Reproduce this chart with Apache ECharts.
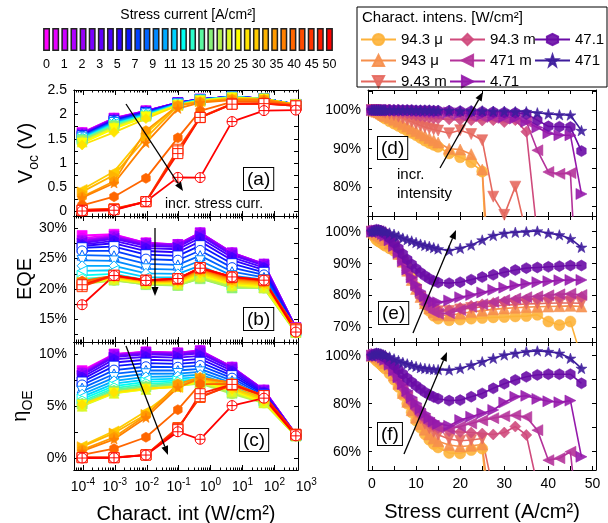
<!DOCTYPE html>
<html>
<head>
<meta charset="utf-8">
<script src="https://cdn.jsdelivr.net/npm/echarts@6/dist/echarts.min.js"></script>
<style>
  html, body { margin: 0; background: #fff; }
  #chart { width: 608px; height: 523px; }
</style>
</head>
<body>
<div id="chart"></div>
<script>
const FONT = '"Liberation Sans", Arial, sans-serif';

// stress current steps (A/cm2), one colour per step on the colour bar
const stress = [0, 0.5, 1, 1.5, 2, 2.5, 3, 4, 5, 6, 7, 8, 9, 10, 11, 12, 13, 14, 15, 17.5, 20, 22.5, 25, 27.5, 30, 32.5, 35, 37.5, 40, 42.5, 45, 47.5];
const stressColors = ['#ff00ff', '#e600ff', '#cc00ff', '#b000ff', '#9600f5', '#7a00ff', '#6000ff', '#4800ff', '#2e00ff', '#0a14ff',
  '#0040ff', '#0064ff', '#0088ff', '#00aaff', '#00d2ff', '#00fff2', '#2affcc', '#5af8a0', '#88f078', '#b4f050',
  '#dcf826', '#ffff00', '#ffe400', '#ffcc00', '#ffb400', '#ff9a00', '#ff8000', '#ff6600', '#ff4c00', '#ff3300', '#ff1a00', '#ff0000'];
const barLabels = ['0', '1', '2', '3', '5', '7', '9', '11', '13', '15', '20', '25', '30', '35', '40', '45', '50'];

// characterisation intensities (W/cm2)
const intens = [9.43e-5, 9.43e-4, 9.43e-3, 0.0943, 0.471, 4.71, 47.1, 471];
const intensNames = ['94.3 μ', '943 μ', '9.43 m', '94.3 m', '471 m', '4.71', '47.1', '471'];
const intensColors = ['#fdb23a', '#f68f4c', '#e5695f', '#cf4a7c', '#b4329a', '#9519ab', '#6a0ca6', '#3d1c9c'];

// unstressed values per intensity
const vocBase = [1.63, 1.93, 2.08, 2.25, 2.32, 2.37, 2.33, 2.21];
const eqeBase = [28.8, 29.0, 27.6, 27.3, 29.2, 25.9, 24.0, 13.6];
const etaBase = [8.4, 10.0, 10.2, 10.1, 10.3, 8.7, 6.5, 2.25];

// values relative to unstressed (%), one row per intensity, one value per stress step
const vocRel = [
  [100, 99.7, 99.4, 99.0, 98.6, 98.2, 97.8, 97.1, 96.5, 95.9, 95.3, 94.7, 94.1, 93.5, 92.8, 92.1, 91.5, 91.0, 90.5, 88.8, 87.8, 86.5, 84.1, 27.6, 24.5, 18.4, 17.2, 7.4, 1.8, 1.2, 1.0, 0.2],
  [100, 99.8, 99.6, 99.4, 99.1, 98.8, 98.5, 98.0, 97.5, 97.0, 96.4, 95.8, 95.2, 94.6, 94.0, 93.4, 92.8, 92.2, 91.6, 90.0, 89.8, 88.6, 84.6, 42.5, 38.9, 32.1, 30.0, 15.5, 2.6, 2.1, 1.6, 1.0],
  [100, 100, 99.9, 99.8, 99.7, 99.5, 99.3, 99.0, 98.7, 98.3, 97.9, 97.5, 97.0, 96.5, 96.0, 95.6, 95.3, 95.0, 94.7, 94.0, 94.8, 93.8, 92.2, 77.6, 72.9, 80.2, 68.0, 32.7, 9.6, 9.4, 9.5, 9.6],
  [100, 100, 100, 100, 99.9, 99.9, 99.8, 99.7, 99.6, 99.5, 99.3, 99.1, 98.9, 98.7, 98.5, 98.3, 98.1, 97.9, 97.8, 97.6, 97.5, 97.4, 97.3, 97.4, 96.9, 97.4, 94.4, 67.5, 57.0, 55.5, 53.0, 31.1],
  [100, 100, 100, 100, 100, 100, 100, 99.9, 99.9, 99.8, 99.8, 99.7, 99.6, 99.5, 99.4, 99.3, 99.2, 99.1, 99.0, 98.8, 98.6, 98.4, 98.2, 98.0, 97.8, 97.5, 97.0, 89.6, 84.0, 83.5, 83.7, 30.0],
  [100, 100, 100, 100, 100, 100, 100, 100, 100, 100, 100, 99.9, 99.9, 99.8, 99.8, 99.7, 99.7, 99.6, 99.6, 99.4, 99.2, 99.0, 98.8, 98.5, 98.2, 97.9, 97.0, 95.5, 94.0, 93.5, 93.5, 78.3],
  [100, 100, 100, 100, 100, 100, 100, 100, 100, 100, 100, 100, 100, 99.9, 99.9, 99.9, 99.9, 99.8, 99.8, 99.8, 99.7, 99.7, 99.6, 99.5, 99.4, 99.3, 99.0, 97.4, 95.8, 95.7, 95.6, 89.4],
  [100, 100, 100, 100, 100, 100, 100, 100, 100, 100, 100, 100, 100, 100, 100, 100, 100, 99.9, 99.9, 99.9, 99.8, 99.8, 99.8, 99.7, 99.7, 99.6, 99.6, 99.3, 99.0, 98.8, 98.7, 94.7]
];
const eqeRel = [
  [100, 98.5, 97.5, 97.0, 96.6, 96.1, 95.6, 94.8, 94.0, 93.0, 91.2, 88.8, 85.8, 82.7, 79.8, 77.2, 75.2, 73.7, 72.8, 72.3, 72.5, 72.8, 73.0, 73.2, 73.3, 73.5, 73.6, 74.0, 71.9, 70.8, 71.9, 60.5],
  [100, 99.6, 99.2, 98.8, 98.4, 97.9, 97.4, 96.3, 94.9, 93.0, 90.6, 87.8, 84.9, 82.1, 79.6, 77.6, 76.0, 74.8, 74.0, 73.8, 74.4, 74.9, 75.3, 75.7, 76.0, 76.2, 76.4, 76.5, 76.6, 76.7, 76.8, 76.6],
  [100, 100, 99.9, 99.6, 99.2, 98.7, 98.1, 96.8, 95.1, 92.9, 90.3, 87.4, 84.5, 81.8, 79.5, 77.7, 76.4, 75.6, 75.1, 75.2, 75.7, 76.1, 76.5, 76.8, 77.0, 77.2, 77.4, 77.5, 77.6, 77.7, 77.7, 77.6],
  [100, 100.2, 100.2, 100, 99.6, 99.1, 98.5, 97.2, 95.4, 93.2, 90.6, 87.8, 85.0, 82.4, 80.2, 78.4, 77.0, 76.0, 75.4, 75.5, 76.2, 76.8, 77.3, 77.7, 78.1, 78.4, 78.7, 79.0, 79.2, 79.4, 79.5, 79.6],
  [100, 100.2, 100.3, 100.1, 99.7, 99.2, 98.6, 97.2, 95.3, 92.9, 90.2, 87.3, 84.4, 81.7, 79.3, 77.3, 75.8, 74.8, 74.3, 74.5, 75.5, 76.5, 77.3, 78.0, 78.6, 79.1, 79.5, 79.8, 80.1, 80.4, 80.6, 80.2],
  [100, 100.3, 100.4, 100.2, 99.8, 99.3, 98.7, 97.3, 95.5, 93.3, 90.8, 88.2, 85.7, 83.4, 81.4, 79.8, 78.7, 78.1, 77.9, 78.5, 79.5, 80.2, 81.0, 81.8, 82.5, 83.2, 83.7, 84.2, 84.5, 84.8, 84.9, 84.9],
  [100, 100.4, 100.6, 100.5, 100.2, 99.8, 99.3, 98.0, 96.5, 94.8, 93.0, 91.3, 89.8, 88.4, 87.2, 86.2, 85.3, 84.6, 84.1, 83.9, 84.2, 85.0, 85.8, 86.5, 87.3, 88.0, 88.6, 88.8, 89.0, 89.2, 89.4, 89.4],
  [100, 100.3, 100.5, 100.5, 100.4, 100.2, 100.0, 99.6, 99.2, 98.6, 98.0, 97.5, 97.1, 96.6, 96.1, 95.7, 95.4, 95.0, 94.6, 94.1, 94.8, 95.8, 97.4, 98.8, 99.5, 99.8, 100.0, 100.2, 99.5, 99.0, 97.8, 95.1]
];
const etaRel = [
  [100, 99.0, 98.0, 97.2, 96.4, 95.5, 94.6, 92.5, 90.0, 87.0, 83.6, 80.0, 76.4, 73.0, 70.0, 67.3, 65.0, 63.2, 61.8, 59.5, 59.3, 60.7, 61.3, 14.0, 13.0, 9.4, 8.0, 3.5, 0.6, 0.5, 0.4, 0.0],
  [100, 99.8, 99.6, 99.2, 98.6, 97.9, 97.0, 94.8, 91.8, 88.3, 84.5, 80.8, 77.3, 74.2, 71.5, 69.2, 67.2, 65.6, 64.4, 62.8, 62.2, 62.5, 63.0, 26.0, 24.0, 20.0, 18.0, 9.0, 0.5, 0.4, 0.3, 0.2],
  [100, 100, 99.9, 99.6, 99.1, 98.4, 97.6, 95.4, 92.6, 89.4, 86.0, 82.6, 79.4, 76.5, 73.9, 71.7, 69.8, 68.3, 67.1, 65.3, 64.6, 64.9, 65.5, 44.0, 41.0, 40.0, 38.0, 19.6, 3.0, 3.0, 2.8, 2.8],
  [100, 100.2, 100.2, 99.9, 99.3, 98.6, 97.7, 95.5, 92.7, 89.6, 86.4, 83.3, 80.4, 77.8, 75.5, 73.6, 72.0, 70.7, 69.8, 68.6, 68.2, 68.0, 67.6, 67.2, 68.0, 70.5, 67.0, 46.0, 29.0, 28.0, 27.0, 25.0],
  [100, 100.3, 100.4, 100.0, 99.4, 98.6, 97.6, 95.3, 92.5, 89.4, 86.3, 83.2, 80.4, 77.8, 75.5, 73.6, 72.0, 70.8, 70.0, 69.5, 70.5, 71.8, 73.0, 74.0, 74.8, 75.2, 74.5, 69.0, 56.5, 57.3, 60.0, 17.5],
  [100, 100.5, 100.7, 100.4, 99.9, 99.2, 98.3, 96.2, 93.7, 91.0, 88.2, 85.4, 82.7, 80.2, 77.9, 75.9, 74.1, 72.7, 71.6, 70.8, 73.2, 74.6, 76.0, 77.4, 80.5, 82.9, 83.3, 82.0, 81.0, 80.6, 81.3, 57.9],
  [100, 100.6, 100.9, 100.7, 100.3, 99.8, 99.2, 97.7, 96.0, 94.2, 92.4, 90.6, 89.0, 87.5, 86.1, 84.8, 83.7, 82.8, 82.1, 81.3, 81.5, 82.9, 84.3, 86.4, 88.3, 89.9, 91.2, 92.0, 92.3, 92.3, 92.3, 88.5],
  [100, 100.6, 101.0, 101.0, 100.8, 100.5, 100.2, 99.5, 98.7, 98.0, 97.2, 96.6, 96.0, 95.5, 95.0, 94.7, 94.5, 94.3, 94.2, 94.0, 94.7, 96.1, 97.5, 98.9, 100.3, 101.0, 101.7, 102.0, 101.7, 101.0, 98.9, 94.7]
];

// marker shapes
const STAR = 'path://M0,-10L2.35,-3.24L9.51,-3.09L3.8,1.24L5.88,8.09L0,4L-5.88,8.09L-3.8,1.24L-9.51,-3.09L-2.35,-3.24Z';
const HEX = 'path://M0,-10L8.66,-5L8.66,5L0,10L-8.66,5L-8.66,-5Z';
const SQPLUS = 'path://M-10,-10L10,-10L10,10L-10,10ZM-10,0L10,0M0,-10L0,10';
const CIRPLUS = 'path://M-10,0A10,10,0,1,1,10,0A10,10,0,1,1,-10,0ZM-10,0L10,0M0,-10L0,10';
const shapes = {
  rect: ['rect', 0], circle: ['circle', 0], up: ['triangle', 0], down: ['triangle', 180],
  diamond: ['diamond', 0], left: ['triangle', 90], right: ['triangle', -90],
  hex: [HEX, 0], star: [STAR, 0], sqplus: [SQPLUS, 0], cirplus: [CIRPLUS, 0]
};
const leftCycle = ['rect', 'circle', 'up', 'down', 'diamond', 'left', 'right', 'hex', 'star'];
const rightShapes = ['circle', 'up', 'down', 'diamond', 'left', 'right', 'hex', 'star'];

function leftShape(i) {
  if (i === 31) return ['cirplus', true];
  if (i >= 28) return ['sqplus', true];
  if (i === 27) return ['hex', false];
  return [leftCycle[i % 9], Math.floor(i / 9) % 2 === 1];
}

const RICH = {
  b: { fontSize: 14, fontFamily: FONT, color: '#000', verticalAlign: 'bottom' },
  s: { fontSize: 10, fontFamily: FONT, color: '#000', verticalAlign: 'bottom', padding: [0, 0, 7, 0] }
};
const NAME_STYLE = {
  fontSize: 20, fontFamily: FONT, color: '#000',
  rich: {
    n: { fontSize: 20, fontFamily: FONT, color: '#000', verticalAlign: 'bottom', padding: [0, 0, 5, 0] },
    sub: { fontSize: 14, fontFamily: FONT, color: '#000', verticalAlign: 'bottom' }
  }
};

function mkAxis(g, pos, min, max, ticks, len, labels, fmt, extra) {
  return Object.assign({
    type: 'value', gridIndex: g, position: pos, min: min, max: max,
    axisLine: { show: true, onZero: false, lineStyle: { color: '#000', width: 1 } },
    axisTick: { show: true, inside: true, length: len, customValues: ticks, lineStyle: { color: '#000', width: 1 } },
    axisLabel: labels ? { show: true, customValues: labels, formatter: fmt, color: '#000', fontSize: 14, fontFamily: FONT, margin: 7, rich: RICH } : { show: false },
    splitLine: { show: false }
  }, extra || {});
}
function range(a, b, step) { const r = []; for (let v = a; v <= b + 1e-9; v += step) r.push(+v.toFixed(4)); return r; }

const grids = [
  { left: 74, top: 90, width: 224, height: 126 },
  { left: 74, top: 216, width: 224, height: 126 },
  { left: 74, top: 342, width: 224, height: 128 },
  { left: 368, top: 90, width: 228, height: 126 },
  { left: 368, top: 216, width: 228, height: 126 },
  { left: 368, top: 342, width: 228, height: 128 },
  { left: 42, top: 28, width: 292, height: 23 }
].map(g => Object.assign({ outerBoundsMode: 'none' }, g));

const xAxes = [], yAxes = [], xMain = [], yMain = [];

// left column: log characterisation intensity
const logMin = -4.28, logMax = 2.74;
const logMajor = [-4, -3, -2, -1, 0, 1, 2];
const logMinor = [];
for (let d = -5; d <= 2; d++) for (let k = 2; k <= 9; k++) {
  const v = d + Math.log10(k);
  if (v > logMin && v < logMax) logMinor.push(v);
}
const powFmt = v => '{b|10}{s|' + v + '}';
const leftY = [
  { min: -0.1, max: 2.51, ticks: range(0, 2.5, 0.25), labels: [0, 0.5, 1, 1.5, 2, 2.5], fmt: v => String(v), name: '{n|V}{sub|oc}{n| (V)}' },
  { min: 11.3, max: 32, ticks: range(12.5, 30, 2.5), labels: [15, 20, 25, 30], fmt: v => v + '%', name: '{n|EQE}' },
  { min: -1.15, max: 11.15, ticks: range(0, 10, 2.5), labels: [0, 5, 10], fmt: v => v + '%', name: '{n|η}{sub|OE}' }
];
for (let g = 0; g < 3; g++) {
  const bottomExtra = g === 2 ? { name: 'Charact. int (W/cm²)', nameLocation: 'middle', nameGap: 34, nameTextStyle: NAME_STYLE } : {};
  xMain[g] = xAxes.push(mkAxis(g, 'bottom', logMin, logMax, logMajor, 5, g === 2 ? logMajor : null, powFmt, bottomExtra)) - 1;
  xAxes.push(mkAxis(g, 'bottom', logMin, logMax, logMinor, 2.5, null));
  xAxes.push(mkAxis(g, 'top', logMin, logMax, logMajor, 5, null));
  xAxes.push(mkAxis(g, 'top', logMin, logMax, logMinor, 2.5, null));
  const c = leftY[g];
  yMain[g] = yAxes.push(mkAxis(g, 'left', c.min, c.max, c.ticks, 4, c.labels, c.fmt,
    { name: c.name, nameLocation: 'middle', nameRotate: 90, nameGap: 33, nameTextStyle: NAME_STYLE })) - 1;
  yAxes.push(mkAxis(g, 'right', c.min, c.max, c.ticks, 4, null));
}

// right column: stress current
const rightY = [
  { min: 72.6, max: 105.2, ticks: range(75, 105, 5), labels: [80, 90, 100] },
  { min: 65.5, max: 104.9, ticks: range(70, 100, 5), labels: [70, 80, 90, 100] },
  { min: 52.4, max: 105.7, ticks: range(60, 100, 10), labels: [60, 80, 100] }
];
for (let p = 0; p < 3; p++) {
  const g = 3 + p;
  const bottomExtra = p === 2 ? { name: 'Stress current (A/cm²)', nameLocation: 'middle', nameGap: 32, nameTextStyle: NAME_STYLE } : {};
  xMain[g] = xAxes.push(mkAxis(g, 'bottom', -0.9, 50.8, range(0, 50, 5), 4, p === 2 ? range(0, 50, 10) : null, v => String(v), bottomExtra)) - 1;
  xAxes.push(mkAxis(g, 'top', -0.9, 50.8, range(0, 50, 5), 4, null));
  const c = rightY[p];
  yMain[g] = yAxes.push(mkAxis(g, 'left', c.min, c.max, c.ticks, 4, c.labels, v => v + '%')) - 1;
  yAxes.push(mkAxis(g, 'right', c.min, c.max, c.ticks, 4, null));
}

// colour bar
const cbCat = xAxes.push({ type: 'category', gridIndex: 6, data: stress.map(String), show: false }) - 1;
xAxes.push({
  type: 'value', gridIndex: 6, position: 'bottom', min: 0, max: 32,
  axisLine: { show: false }, axisTick: { show: false }, splitLine: { show: false },
  axisLabel: {
    customValues: barLabels.map((_, k) => 0.5 + k * 31 / 16),
    formatter: v => barLabels[Math.round((v - 0.5) * 16 / 31)],
    color: '#000', fontSize: 12.5, fontFamily: FONT, margin: 7
  }
});
const cbY = yAxes.push({ type: 'value', gridIndex: 6, min: 0, max: 1, show: false }) - 1;

const series = [];
const bases = [vocBase, eqeBase, etaBase];
const rels = [vocRel, eqeRel, etaRel];

function styled(s, shapeName, color, open, size) {
  const sh = shapes[shapeName];
  s.symbol = sh[0];
  s.symbolRotate = sh[1];
  s.symbolSize = size;
  s.symbolKeepAspect = true;
  s.itemStyle = open
    ? { color: '#fff', borderColor: color, borderWidth: 1 }
    : { color: color, borderColor: color, borderWidth: 0.6 };
  return s;
}

// left: one line per stress step
for (let i = 0; i < stress.length; i++) {
  const [sh, open] = leftShape(i);
  for (let p = 0; p < 3; p++) {
    series.push(styled({
      type: 'line', name: 'S' + stress[i], xAxisIndex: xMain[p], yAxisIndex: yMain[p],
      data: intens.map((v, j) => [Math.log10(v), +(bases[p][j] * rels[p][j][i] / 100).toFixed(4)]),
      lineStyle: { color: stressColors[i], width: 1.8 },
      emphasis: { disabled: true }
    }, sh, stressColors[i], open, 10));
  }
}
// right: one line per intensity
for (let j = 0; j < intens.length; j++) {
  for (let p = 0; p < 3; p++) {
    const s = styled({
      type: 'line', name: intensNames[j], xAxisIndex: xMain[3 + p], yAxisIndex: yMain[3 + p],
      data: stress.map((x, i) => [x, rels[p][j][i]]),
      lineStyle: { color: intensColors[j], width: 1.6 },
      emphasis: { disabled: true }
    }, rightShapes[j], intensColors[j], false, 11);
    s.itemStyle.opacity = 0.9;
    series.push(s);
  }
}
series.push({
  type: 'bar', xAxisIndex: cbCat, yAxisIndex: cbY, barCategoryGap: '24%',
  data: stressColors.map(c => ({ value: 1, itemStyle: { color: c, borderColor: '#222', borderWidth: 1.5 } }))
});

const legendBase = {
  orient: 'vertical', itemWidth: 35, itemHeight: 14, itemGap: 6, padding: 0, selectedMode: false,
  textStyle: { fontSize: 15, fontFamily: FONT, color: '#000', lineHeight: 15 }
};
const legends = [
  Object.assign({ data: intensNames.slice(0, 3), left: 360, top: 32 }, legendBase),
  Object.assign({ data: intensNames.slice(3, 6), left: 449, top: 32 }, legendBase),
  Object.assign({ data: intensNames.slice(6), left: 534, top: 32 }, legendBase)
];

const chart = echarts.init(document.getElementById('chart'));
chart.setOption({
  animation: false,
  backgroundColor: '#fff',
  grid: grids,
  xAxis: xAxes,
  yAxis: yAxes,
  legend: legends,
  series: series
});

// annotations
function arrow(x1, y1, x2, y2) {
  const a = Math.atan2(y2 - y1, x2 - x1), L = 9, W = 3.5;
  const bx = x2 - L * Math.cos(a), by = y2 - L * Math.sin(a);
  return [
    { type: 'line', z: 100, shape: { x1: x1, y1: y1, x2: bx, y2: by }, style: { stroke: '#000', lineWidth: 1.3 } },
    { type: 'polygon', z: 100, shape: { points: [[x2, y2], [bx - W * Math.sin(a), by + W * Math.cos(a)], [bx + W * Math.sin(a), by - W * Math.cos(a)]] }, style: { fill: '#000' } }
  ];
}
function tag(t, x, y) {
  return { type: 'text', left: x, top: y, z: 100, style: { text: t, font: '19px ' + FONT, fill: '#000', backgroundColor: '#fff', borderColor: '#000', borderWidth: 1, padding: [2, 3, 1, 3] } };
}
function label(t, x, y, size) {
  return { type: 'text', left: x, top: y, z: 100, style: { text: t, font: size + 'px ' + FONT, fill: '#000' } };
}
const x3 = chart.convertToPixel({ xAxisIndex: xMain[2] }, 3);
const graphics = [
  { type: 'text', z: 100, x: 188, y: 8, style: { text: 'Stress current [A/cm²]', font: '14px ' + FONT, fill: '#000', align: 'center', textAlign: 'center' } },
  { type: 'rect', z: 90, shape: { x: 357, y: 7, width: 250, height: 80 }, style: { fill: 'none', stroke: '#000', lineWidth: 1 } },
  label('Charact. intens. [W/cm²]', 362, 10, 15),
  {
    type: 'text', z: 100, x: x3, y: 477,
    style: {
      text: '{b|10}{s|3}', align: 'center', textAlign: 'center',
      rich: {
        b: { fontSize: 14, fontFamily: FONT, fill: '#000', verticalAlign: 'bottom' },
        s: { fontSize: 10, fontFamily: FONT, fill: '#000', verticalAlign: 'bottom', padding: [0, 0, 7, 0] }
      }
    }
  },
  label('incr. stress curr.', 165, 197, 14),
  label('incr.', 397, 167, 15),
  label('intensity', 397, 186, 15),
  tag('(a)', 243, 167), tag('(b)', 243, 307), tag('(c)', 239, 428),
  tag('(d)', 377, 136), tag('(e)', 378, 301), tag('(f)', 377, 422)
].concat(
  arrow(126, 104, 183, 191),
  arrow(155, 228, 155, 296),
  arrow(126, 346, 168, 455),
  arrow(440, 168, 483, 92),
  arrow(413, 333, 456, 230),
  arrow(404, 454, 447, 352)
);
chart.setOption({ graphic: graphics });
</script>
</body>
</html>
